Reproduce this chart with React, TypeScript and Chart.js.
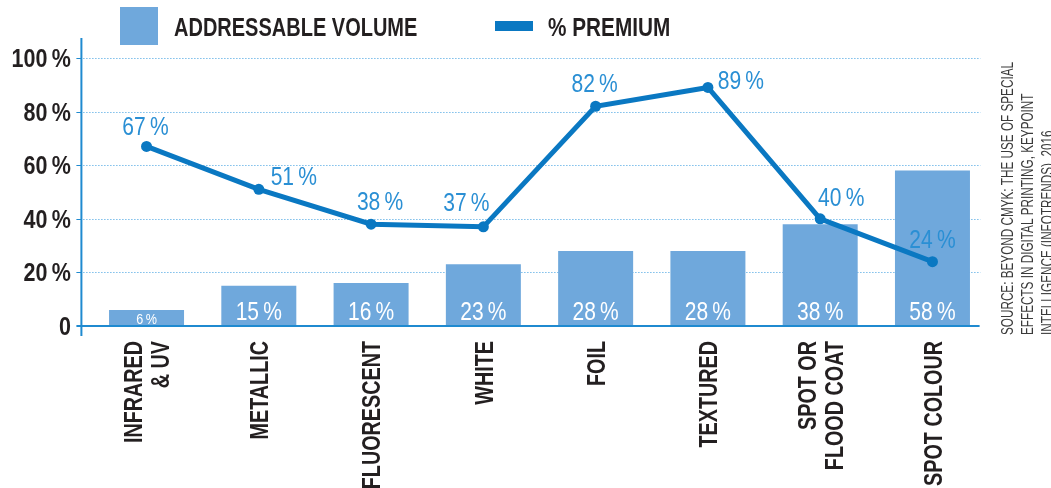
import React, { useEffect, useRef } from "react";
import { Chart, registerables } from "chart.js";

Chart.register(...registerables);

const categories: string[][] = [
  ["INFRARED", "& UV"],
  ["METALLIC"],
  ["FLUORESCENT"],
  ["WHITE"],
  ["FOIL"],
  ["TEXTURED"],
  ["SPOT OR", "FLOOD COAT"],
  ["SPOT COLOUR"],
];
const addressableVolume: number[] = [6, 15, 16, 23, 28, 28, 38, 58];
const premium: number[] = [67, 51, 38, 37, 82, 89, 40, 24];
const yTicks: number[] = [0, 20, 40, 60, 80, 100];
const legendLabels: string[] = ["ADDRESSABLE VOLUME", "% PREMIUM"];
const sourceLines: string[] = [
  "SOURCE: BEYOND CMYK: THE USE OF SPECIAL",
  "EFFECTS IN DIGITAL PRINTING, KEYPOINT",
  "INTELLIGENCE (INFOTRENDS), 2016",
];

// label placement nudges for the % premium labels (dx, dy from the point)
const premiumLabelNudge: [number, number][] = [
  [-1, -11], [35, -4], [9, -14], [-17, -16], [-1, -14], [33, 2], [21, -13], [0, -14],
];

const FONT = "'Liberation Sans', Arial, sans-serif";
const BAR_COLOR = "#6fa8dc";
const LINE_COLOR = "#0a78c2";
const LABEL_BLUE = "#2a8fd4";
const AXIS_BLUE = "#1f8ad0";
const GRID_BLUE = "#3a9de0";
const DARK = "#231f20";

const pct = (v: number) => `${v}\u2009%`;

function drawText(
  ctx: CanvasRenderingContext2D,
  text: string,
  x: number,
  y: number,
  o: { size: number; bold?: boolean; color: string; align?: CanvasTextAlign; sx?: number; rot?: number }
) {
  ctx.save();
  ctx.translate(x, y);
  if (o.rot) ctx.rotate(o.rot);
  ctx.scale(o.sx ?? 1, 1);
  ctx.font = `${o.bold ? "bold " : ""}${o.size}px ${FONT}`;
  ctx.fillStyle = o.color;
  ctx.textAlign = o.align ?? "left";
  ctx.textBaseline = "alphabetic";
  ctx.fillText(text, 0, 0);
  ctx.restore();
}

const decorPlugin = {
  id: "decor",
  beforeDatasetsDraw(chart: any) {
    const { ctx, chartArea, scales } = chart;
    const ys = scales.y;
    const axisX = chartArea.left - 9;
    const gridRight = chartArea.right - 8;
    ctx.save();
    yTicks.forEach((v) => {
      if (v === 0) return;
      const y = Math.round(ys.getPixelForValue(v)) + 0.5;
      ctx.strokeStyle = GRID_BLUE;
      ctx.lineWidth = 1;
      ctx.setLineDash([1, 2]);
      ctx.beginPath();
      ctx.moveTo(axisX + 2, y);
      ctx.lineTo(gridRight, y);
      ctx.stroke();
      ctx.setLineDash([]);
      ctx.strokeStyle = AXIS_BLUE;
      ctx.beginPath();
      ctx.moveTo(axisX - 5, y);
      ctx.lineTo(axisX, y);
      ctx.stroke();
    });
    ctx.restore();
    yTicks.forEach((v) => {
      const y = ys.getPixelForValue(v);
      drawText(ctx, v === 0 ? "0" : pct(v), axisX - 10.5, y + 9, {
        size: 25, bold: true, color: DARK, align: "right", sx: 0.86,
      });
    });
  },
  afterDatasetsDraw(chart: any) {
    const { ctx, chartArea, scales } = chart;
    const xs = scales.x;
    const ys = scales.y;
    const axisX = chartArea.left - 9;
    const gridRight = chartArea.right - 8;
    const y0 = ys.getPixelForValue(0);
    ctx.save();
    ctx.strokeStyle = AXIS_BLUE;
    ctx.lineWidth = 2;
    ctx.beginPath();
    ctx.moveTo(axisX - 5, y0);
    ctx.lineTo(gridRight - 1, y0);
    ctx.stroke();
    ctx.beginPath();
    ctx.moveTo(axisX, ys.getPixelForValue(100) - 20);
    ctx.lineTo(axisX, y0 + 10);
    ctx.stroke();
    ctx.restore();

    // bar value labels
    addressableVolume.forEach((v, i) => {
      const x = xs.getPixelForValue(i);
      const small = y0 - ys.getPixelForValue(v) < 25;
      drawText(ctx, pct(v), x, y0 - (small ? 2 : 6), {
        size: small ? 15 : 25, color: "#ffffff", align: "center", sx: 0.84,
      });
    });

    // premium labels
    premium.forEach((v, i) => {
      const x = xs.getPixelForValue(i);
      const y = ys.getPixelForValue(v);
      const [dx, dy] = premiumLabelNudge[i];
      drawText(ctx, pct(v), x + dx, y + dy, { size: 26, color: LABEL_BLUE, align: "center", sx: 0.81 });
    });

    // category labels (rotated)
    const lh = 27;
    const capHalf = 9.3;
    categories.forEach((lines, i) => {
      const x = xs.getPixelForValue(i);
      lines.forEach((ln, j) => {
        const off = capHalf - ((lines.length - 1) * lh) / 2 + j * lh;
        drawText(ctx, ln, x + off, y0 + 15, {
          size: 26, bold: true, color: DARK, align: "right", sx: 0.76, rot: -Math.PI / 2,
        });
      });
    });

    // legend
    ctx.save();
    ctx.fillStyle = BAR_COLOR;
    ctx.fillRect(120, 7, 38, 38);
    ctx.fillStyle = LINE_COLOR;
    ctx.fillRect(495, 21, 38, 10);
    ctx.restore();
    drawText(ctx, legendLabels[0], 174, 36, { size: 25, bold: true, color: DARK, sx: 0.8 });
    drawText(ctx, legendLabels[1], 548, 36, { size: 25, bold: true, color: DARK, sx: 0.83 });

    // source note (rotated)
    ctx.save();
    ctx.font = `16px ${FONT}`;
    const sx = 273 / ctx.measureText(sourceLines[0]).width;
    ctx.restore();
    sourceLines.forEach((ln, j) => {
      drawText(ctx, ln, 1013 + j * 20, 335, { size: 16, color: "#3a3a3a", sx, rot: -Math.PI / 2 });
    });
  },
};

export default function App() {
  const ref = useRef<HTMLCanvasElement | null>(null);
  useEffect(() => {
    if (!ref.current) return;
    const chart = new Chart(ref.current, {
      type: "bar",
      data: {
        labels: categories,
        datasets: [
          {
            type: "line",
            label: legendLabels[1],
            data: premium,
            borderColor: LINE_COLOR,
            backgroundColor: LINE_COLOR,
            borderWidth: 5,
            pointRadius: 5.5,
            pointBorderWidth: 0,
            pointBackgroundColor: LINE_COLOR,
            tension: 0,
            order: 0,
          } as any,
          {
            type: "bar",
            label: legendLabels[0],
            data: addressableVolume,
            backgroundColor: BAR_COLOR,
            borderWidth: 0,
            barPercentage: 0.668,
            categoryPercentage: 1,
            order: 1,
          } as any,
        ],
      },
      options: {
        responsive: false,
        maintainAspectRatio: false,
        animation: false,
        layout: { padding: { left: 90.4, right: 62.4, top: 58, bottom: 162 } },
        plugins: {
          legend: { display: false },
          tooltip: { enabled: false },
          title: { display: false },
        },
        scales: {
          x: { display: false, offset: true },
          y: { display: false, min: 0, max: 100 },
        },
      },
      plugins: [decorPlugin],
    });
    return () => chart.destroy();
  }, []);
  return (
    <div style={{ position: "absolute", left: 0, top: 0, width: 1051, height: 488, overflow: "hidden", background: "#fff" }}>
      <canvas ref={ref} width={1051} height={488} style={{ display: "block" }} />
    </div>
  );
}
